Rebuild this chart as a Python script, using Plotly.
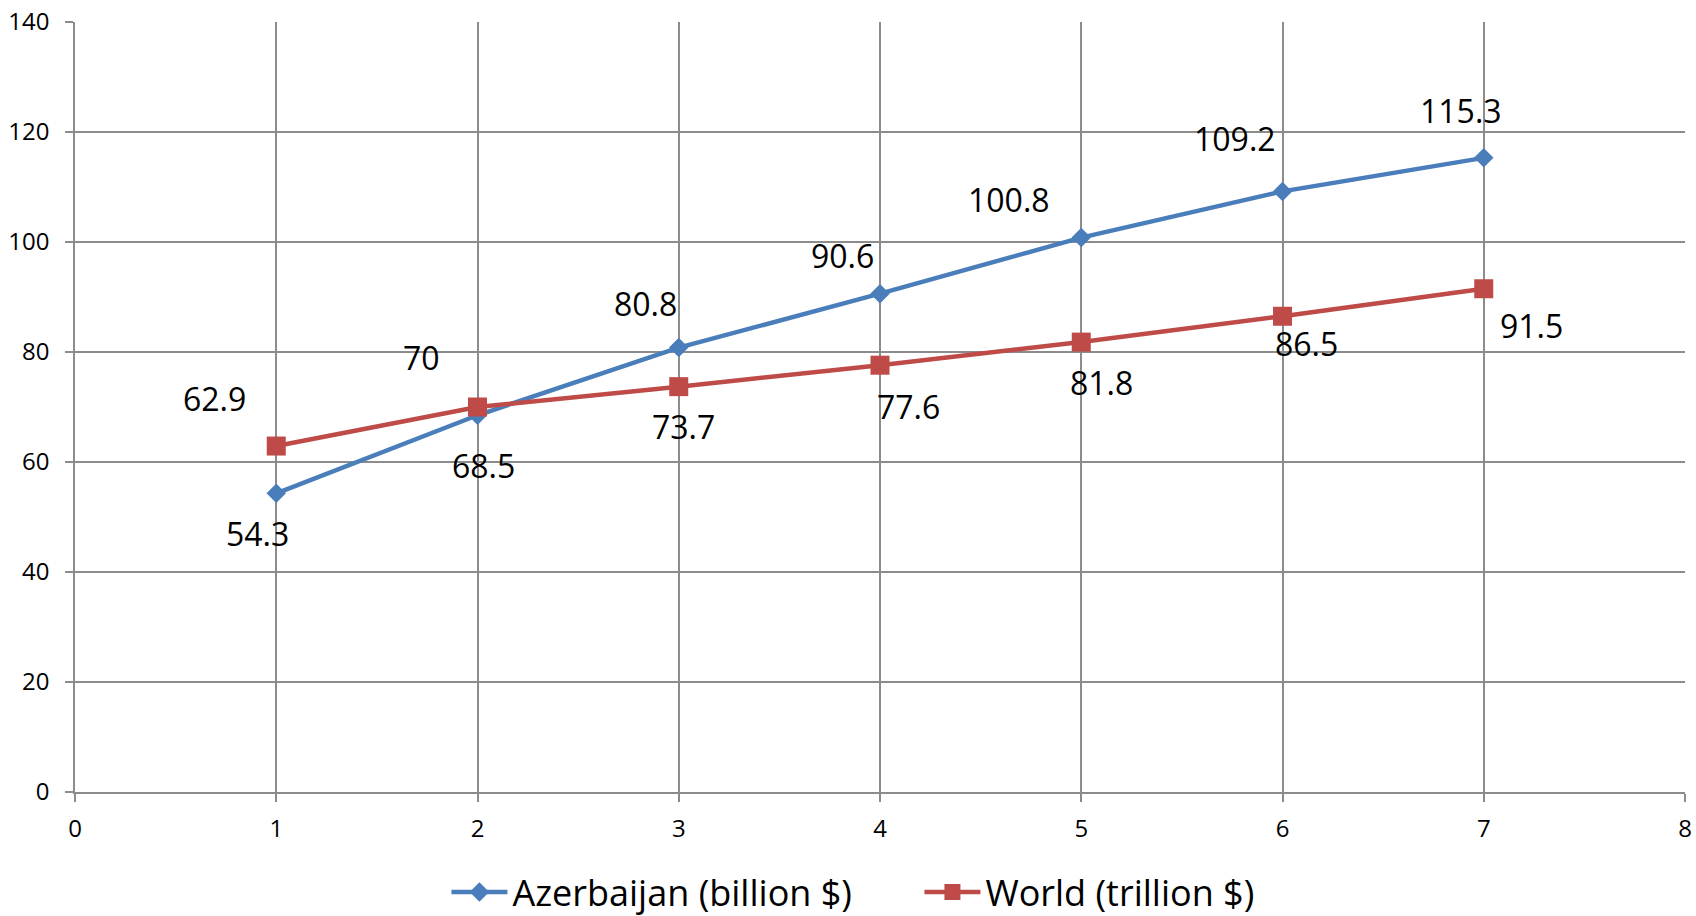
import plotly.graph_objects as go

x_vals = [1, 2, 3, 4, 5, 6, 7]
azerbaijan = [54.3, 68.5, 80.8, 90.6, 100.8, 109.2, 115.3]
world = [62.9, 70, 73.7, 77.6, 81.8, 86.5, 91.5]
azer_name = "Azerbaijan (billion $)"
world_name = "World (trillion $)"

# label pixel offsets (dx right, dy down)
azer_off = [(-19, 40), (6, 50), (-33, -44), (-38, -38), (-72, -38), (-48, -53), (-23, -47)]
world_off = [(-62, -48), (-56, -50), (5, 40), (28, 41), (20, 40), (24, 27), (48, 37)]

BLUE = "#4A7EBB"
RED = "#BE4B48"
FONT = "Open Sans"

fig = go.Figure()
fig.add_trace(go.Scatter(
    x=x_vals, y=azerbaijan, name=azer_name, mode="lines+markers",
    line=dict(color=BLUE, width=4.5),
    marker=dict(symbol="diamond", size=15, color=BLUE),
))
fig.add_trace(go.Scatter(
    x=x_vals, y=world, name=world_name, mode="lines+markers",
    line=dict(color=RED, width=4.5),
    marker=dict(symbol="square", size=19, color=RED),
))

for xs, ys, offs in ((x_vals, azerbaijan, azer_off), (x_vals, world, world_off)):
    for xv, yv, (dx, dy) in zip(xs, ys, offs):
        fig.add_annotation(
            x=xv, y=yv, text=f"{yv:g}", showarrow=False,
            xanchor="center", yanchor="middle",
            xshift=dx, yshift=-dy,
            font=dict(family=FONT, size=32, color="#000000"),
        )

grid = "#8C8C8C"
fig.update_layout(
    width=1696, height=916,
    margin=dict(l=75, r=11, t=22, b=124, autoexpand=False),
    paper_bgcolor="white", plot_bgcolor="white",
    font=dict(family=FONT, color="#000000"),
    showlegend=True,
    legend=dict(
        orientation="h", x=0.2307, y=-0.13, xanchor="left", yanchor="middle",
        font=dict(family=FONT, size=36, color="#000000"),
        itemwidth=56, entrywidth=402, bgcolor="rgba(0,0,0,0)",
    ),
    xaxis=dict(
        range=[0, 8], dtick=1, tick0=0,
        showgrid=True, gridcolor=grid, gridwidth=1.5,
        showline=True, linecolor=grid, linewidth=1.5,
        ticks="outside", ticklen=8, tickcolor=grid, tickwidth=1.5,
        tickfont=dict(family=FONT, size=24, color="#000000"),
        ticklabelstandoff=6, automargin=False,
        zeroline=False,
    ),
    yaxis=dict(
        range=[0, 140], dtick=20, tick0=0,
        showgrid=True, gridcolor=grid, gridwidth=1.5,
        showline=True, linecolor=grid, linewidth=1.5,
        ticks="outside", ticklen=8, tickcolor=grid, tickwidth=1.5,
        tickfont=dict(family=FONT, size=24, color="#000000"),
        ticklabelstandoff=11, automargin=False,
        zeroline=False,
    ),
)

fig.write_html("out.html")
